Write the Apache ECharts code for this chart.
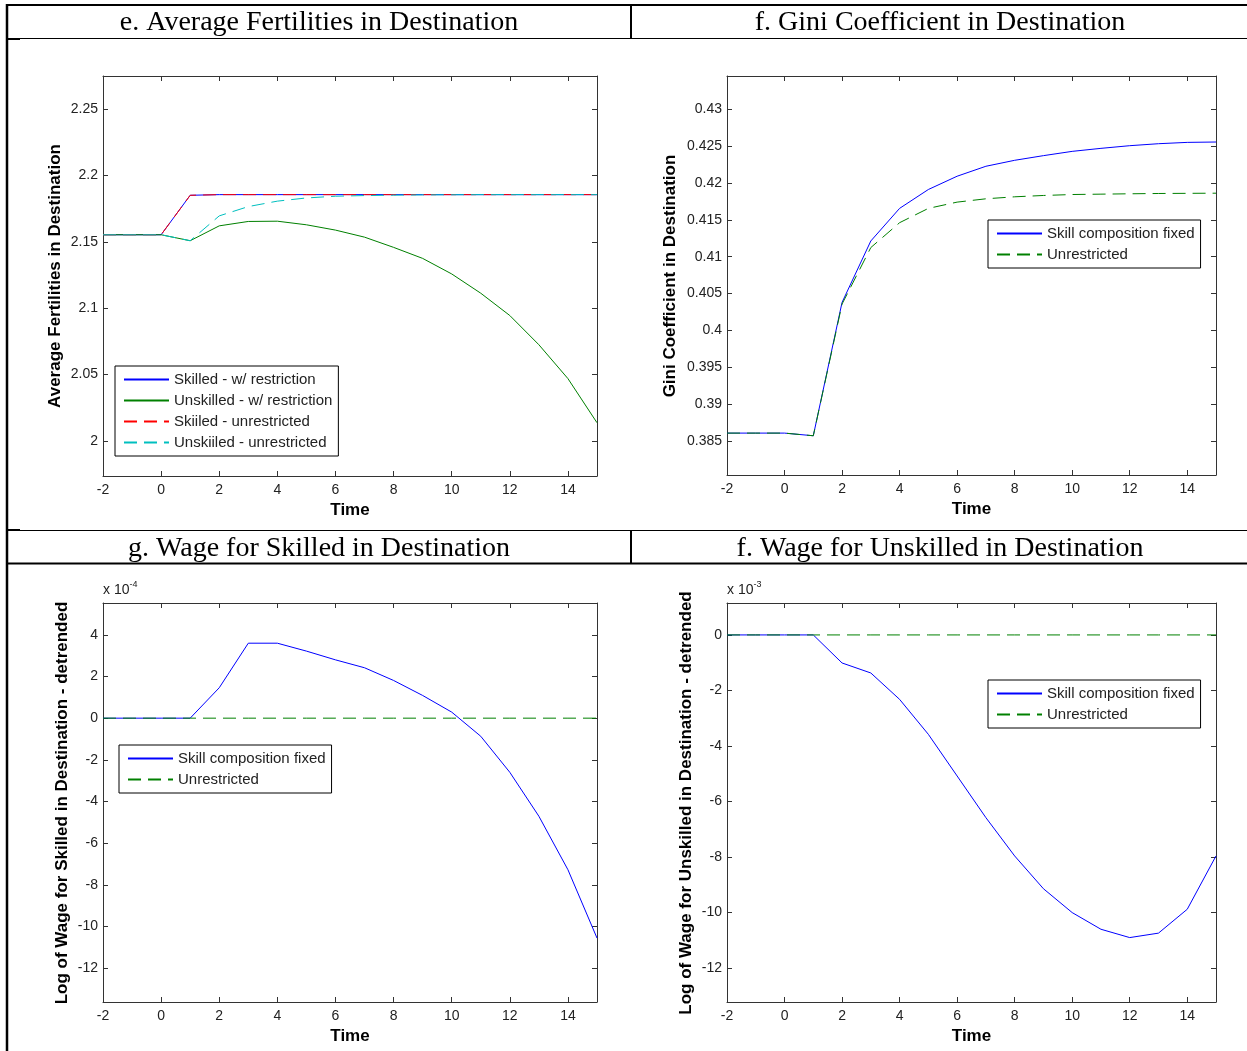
<!DOCTYPE html>
<html>
<head>
<meta charset="utf-8">
<script src="https://cdn.jsdelivr.net/npm/echarts@6/dist/echarts.min.js"></script>
<style>
html,body{margin:0;padding:0;background:#fff;}
#chart{width:1247px;height:1051px;}
</style>
</head>
<body>
<div id="chart"></div>
<script>
// ---------------- DATA ----------------
const time = [-2,-1,0,1,2,3,4,5,6,7,8,9,10,11,12,13,14,15];
const timeTicks = [-2,0,2,4,6,8,10,12,14];

// e. Average fertilities
const fertSkilledRestr   = [2.1553,2.1553,2.1553,2.1850,2.1855,2.1855,2.1855,2.1855,2.1855,2.1855,2.1855,2.1855,2.1855,2.1855,2.1855,2.1855,2.1855,2.1855];
const fertUnskilledRestr = [2.1553,2.1553,2.1553,2.1508,2.1620,2.1653,2.1655,2.1628,2.1588,2.1535,2.1458,2.1375,2.1258,2.1113,2.0945,2.0725,2.0470,2.0138];
const fertSkilledUnres   = [2.1553,2.1553,2.1553,2.1850,2.1855,2.1855,2.1855,2.1855,2.1855,2.1855,2.1855,2.1855,2.1855,2.1855,2.1855,2.1855,2.1855,2.1855];
const fertUnskilledUnres = [2.1553,2.1553,2.1553,2.1508,2.1695,2.1765,2.1806,2.1830,2.1843,2.1848,2.1851,2.1853,2.1854,2.1855,2.1855,2.1855,2.1855,2.1855];
const fertTicks = [2,2.05,2.1,2.15,2.2,2.25];

// f. Gini coefficient
const giniFixed = [0.38608,0.38608,0.38608,0.38572,0.40380,0.41213,0.41655,0.41911,0.42091,0.42226,0.42307,0.42370,0.42428,0.42469,0.42505,0.42532,0.42550,0.42555];
const giniUnres = [0.38608,0.38608,0.38608,0.38572,0.40358,0.41124,0.41461,0.41655,0.41740,0.41785,0.41812,0.41830,0.41843,0.41848,0.41853,0.41857,0.41859,0.41861];
const giniTicks = [0.385,0.39,0.395,0.4,0.405,0.41,0.415,0.42,0.425,0.43];

// g. Wage for skilled (x 1e-4)
const wageSkFixed = [0,0,0,0,1.46,3.60,3.60,3.22,2.80,2.42,1.81,1.09,0.29,-0.87,-2.60,-4.71,-7.28,-10.56];
const wageSkUnres = [0,0,0,0,0,0,0,0,0,0,0,0,0,0,0,0,0,0];
const wageSkTicks = [-12,-10,-8,-6,-4,-2,0,2,4];

// h. Wage for unskilled (x 1e-3)
const wageUnFixed = [0,0,0,0,-1.01,-1.37,-2.32,-3.58,-5.08,-6.58,-7.96,-9.14,-10.00,-10.60,-10.90,-10.74,-9.88,-7.96];
const wageUnUnres = [0,0,0,0,0,0,0,0,0,0,0,0,0,0,0,0,0,0];
const wageUnTicks = [-12,-10,-8,-6,-4,-2,0];

const panelTitles = ['e. Average Fertilities in Destination','f. Gini Coefficient in Destination','g. Wage for Skilled in Destination','f. Wage for Unskilled in Destination'];
const yTitles = ['Average Fertilities in Destination','Gini Coefficient in Destination','Log of Wage for Skilled in Destination - detrended','Log of Wage for Unskilled in Destination - detrended'];
const legendFert = ['Skilled - w/ restriction','Unskilled - w/ restriction','Skiiled - unrestricted','Unskiiled - unrestricted'];
const legendWage = ['Skill composition fixed','Unrestricted'];

// ---------------- LAYOUT ----------------
const SANS = 'Liberation Sans, Arial, sans-serif';
const SERIF = 'Liberation Serif, Times New Roman, serif';
const AX = '#333';
const grids = [
  {left:103, top:76, width:494, height:400},
  {left:727, top:76, width:489, height:399},
  {left:103, top:603, width:494, height:399},
  {left:727, top:603, width:489, height:399}
];
const yRanges = [[1.9737,2.2748],[0.3804,0.4345],[-13.63,5.53],[-13.22,1.15]];
const yTickSets = [fertTicks, giniTicks, wageSkTicks, wageUnTicks];
const fmt = v => String(+(+v).toFixed(4));

const xAxes = [], yAxes = [];
grids.forEach((g, gi) => {
  const lineCommon = {show:true, onZero:false, lineStyle:{color:AX, width:1}};
  xAxes.push({
    gridIndex:gi, type:'value', min:-2, max:15, position:'bottom',
    axisLine:lineCommon,
    axisTick:{inside:true, length:5, customValues:timeTicks, lineStyle:{color:AX}},
    axisLabel:{customValues:timeTicks, formatter:fmt, color:'#222', fontSize:14, fontFamily:SANS, margin:7},
    splitLine:{show:false},
    name:'Time', nameLocation:'middle', nameGap:26,
    nameTextStyle:{fontWeight:'bold', fontSize:17, fontFamily:SANS, color:'#000'}
  });
  xAxes.push({
    gridIndex:gi, type:'value', min:-2, max:15, position:'top',
    axisLine:lineCommon,
    axisTick:{inside:true, length:5, customValues:timeTicks, lineStyle:{color:AX}},
    axisLabel:{show:false}, splitLine:{show:false}
  });
  const yr = yRanges[gi], yt = yTickSets[gi];
  yAxes.push({
    gridIndex:gi, type:'value', min:yr[0], max:yr[1], position:'left',
    axisLine:lineCommon,
    axisTick:{inside:true, length:5, customValues:yt, lineStyle:{color:AX}},
    axisLabel:{customValues:yt, formatter:fmt, color:'#222', fontSize:14, fontFamily:SANS, margin:5},
    splitLine:{show:false}
  });
  yAxes.push({
    gridIndex:gi, type:'value', min:yr[0], max:yr[1], position:'right',
    axisLine:lineCommon,
    axisTick:{inside:true, length:5, customValues:yt, lineStyle:{color:AX}},
    axisLabel:{show:false}, splitLine:{show:false}
  });
});

const DASH = [13, 7];
function line(gi, name, vals, color, dashed) {
  return {
    type:'line', name:name, xAxisIndex:gi*2, yAxisIndex:gi*2,
    data: time.map((t,i)=>[t, vals[i]]),
    symbol:'none', showSymbol:false, animation:false, silent:true,
    lineStyle:{color:color, width:1, type: dashed ? DASH : 'solid'},
    itemStyle:{color:color}
  };
}
const BLUE='#0000ff', GREEN='#008000', RED='#ff0000', CYAN='#00bfbf';
const series = [
  line(0, legendFert[0], fertSkilledRestr, BLUE, false),
  line(0, legendFert[1], fertUnskilledRestr, GREEN, false),
  line(0, legendFert[2], fertSkilledUnres, RED, true),
  line(0, legendFert[3], fertUnskilledUnres, CYAN, true),
  line(1, legendWage[0], giniFixed, BLUE, false),
  line(1, legendWage[1], giniUnres, GREEN, true),
  line(2, legendWage[0], wageSkFixed, BLUE, false),
  line(2, legendWage[1], wageSkUnres, GREEN, true),
  line(3, legendWage[0], wageUnFixed, BLUE, false),
  line(3, legendWage[1], wageUnUnres, GREEN, true)
];

function legend(names, left, top) {
  return {
    data:names, orient:'vertical', left:left, top:top,
    itemWidth:45, itemHeight:15, itemGap:6,
    padding:[6,6,6,8], backgroundColor:'#fff', borderColor:'#000', borderWidth:1, borderRadius:0,
    itemStyle:{opacity:0},
    textStyle:{fontSize:15, fontFamily:SANS, color:'#222'},
    selectedMode:false
  };
}

// ---------------- GRAPHICS (table frame, titles) ----------------
const graphic = [];
function hline(x1,x2,y,w){graphic.push({type:'line', silent:true, shape:{x1:x1,y1:y,x2:x2,y2:y}, style:{stroke:'#000', lineWidth:w}});}
function vline(x,y1,y2,w){graphic.push({type:'line', silent:true, shape:{x1:x,y1:y1,x2:x,y2:y2}, style:{stroke:'#000', lineWidth:w}});}
hline(6,1247,5,2);
hline(7,1247,38.5,1);
hline(7,20,39,2);
hline(7,1247,530.5,1);
hline(7,20,530,2);
hline(7,1247,563.5,2);
vline(7,4,1051,2.5);
vline(631,5,38,2);
vline(631,530,563,2);

const titlePos = [[319,23],[940,23],[319,549],[940,549]];
panelTitles.forEach((t,i)=>{
  graphic.push({type:'text', silent:true, x:titlePos[i][0], y:titlePos[i][1],
    style:{text:t, font:'28px '+SERIF, fill:'#000', align:'center', verticalAlign:'middle'}});
});
const yTitlePos = [[55,276],[670,276],[62,803],[686,803]];
yTitles.forEach((t,i)=>{
  graphic.push({type:'text', silent:true, x:yTitlePos[i][0], y:yTitlePos[i][1], rotation:Math.PI/2,
    style:{text:t, font:'bold 17px '+SANS, fill:'#000', align:'center', verticalAlign:'middle'}});
});
[['-4',103,590],['-3',727,590]].forEach(e=>{
  graphic.push({type:'text', silent:true, x:e[1], y:e[2],
    style:{text:'{a|x 10}{b|'+e[0]+'}', verticalAlign:'middle',
      rich:{a:{fontSize:14, fontFamily:SANS, fill:'#222'}, b:{fontSize:9, fontFamily:SANS, fill:'#222', verticalAlign:'top', padding:[0,0,10,0]}}}});
});

const chart = echarts.init(document.getElementById('chart'), null, {renderer:'canvas'});
chart.setOption({
  animation:false,
  backgroundColor:'#fff',
  grid:grids,
  xAxis:xAxes,
  yAxis:yAxes,
  series:series,
  legend:[
    legend(legendFert,115,366),
    legend(legendWage,988,220),
    legend(legendWage,119,745),
    legend(legendWage,988,680)
  ],
  graphic:graphic
});
</script>
</body>
</html>
